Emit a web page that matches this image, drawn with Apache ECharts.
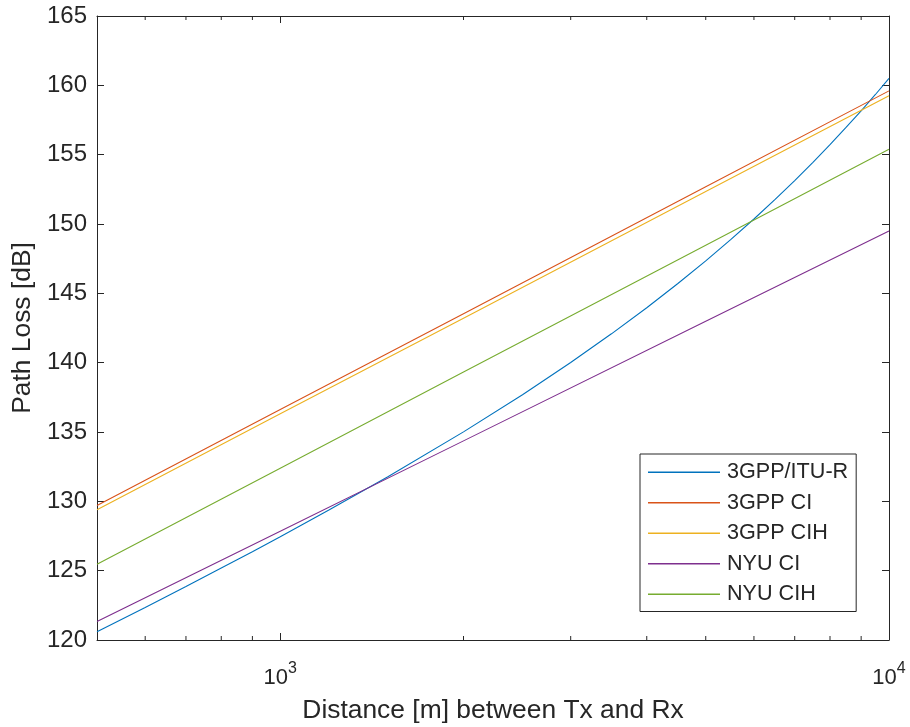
<!DOCTYPE html>
<html>
<head>
<meta charset="utf-8">
<script src="https://cdn.jsdelivr.net/npm/echarts@6/dist/echarts.min.js"></script>
<style>
html,body{margin:0;padding:0;background:#fff;}
#chart{width:910px;height:727px;}
</style>
</head>
<body>
<div id="chart"></div>
<script>
// ---- data ----
const curveDistances = [500, 600, 700, 800, 900, 1000, 1200, 1500, 2000, 2500, 3000, 3500, 4000, 4500, 5000, 5500, 6000, 6500, 7000, 7500, 8000, 8500, 9000, 9500, 10000];
const itur = [120.6, 122.35, 123.86, 125.19, 126.37, 127.45, 129.35, 131.75, 135.01, 137.69, 140.01, 142.08, 143.96, 145.71, 147.34, 148.89, 150.36, 151.77, 153.13, 154.45, 155.72, 156.96, 158.16, 159.34, 160.5];

const lineDistances = [500, 1000, 2000, 5000, 10000];
const gppCI  = [129.70, 136.62, 143.53, 152.68, 159.60];
const gppCIH = [129.40, 136.31, 143.21, 152.35, 159.25];
const nyuCI  = [121.33, 127.85, 134.36, 142.99, 149.50];
const nyuCIH = [125.47, 132.39, 139.32, 148.46, 155.39];

const seriesNames = ['3GPP/ITU-R', '3GPP CI', '3GPP CIH', 'NYU CI', 'NYU CIH'];
const colors = ['#0072BD', '#D95319', '#EDB120', '#7E2F8E', '#77AC30'];

const minorTicks = [600, 700, 800, 900, 2000, 3000, 4000, 5000, 6000, 7000, 8000, 9000];
const xMin = 500, xMax = 10000, yMin = 120, yMax = 165, yStep = 5;

const FONT = '"Liberation Sans", Arial, Helvetica, sans-serif';
const TXT = '#262626';

function pairs(xs, ys){ return xs.map((x,i)=>[x, ys[i]]); }

const chart = echarts.init(document.getElementById('chart'), null, {renderer:'canvas'});

const lineSeries = [
  pairs(curveDistances, itur),
  pairs(lineDistances, gppCI),
  pairs(lineDistances, gppCIH),
  pairs(lineDistances, nyuCI),
  pairs(lineDistances, nyuCIH)
].map((d,i)=>({
  name: seriesNames[i],
  type: 'line',
  data: d,
  symbol: 'none',
  smooth: false,
  lineStyle: {color: colors[i], width: 1.1},
  itemStyle: {color: colors[i]},
  animation: false,
  z: 3
}));

const axisLineStyle = {color: TXT, width: 1};

const option = {
  backgroundColor: '#fff',
  animation: false,
  textStyle: {fontFamily: FONT},
  grid: {left: 97, right: 21, top: 16, bottom: 87, containLabel: false, outerBoundsMode: 'none'},
  legend: {
    data: seriesNames.map(n=>({name:n, icon:'rect'})),
    orient: 'vertical',
    left: 640,
    top: 454,
    padding: [7, 8, 6, 8],
    itemGap: 8,
    itemWidth: 72,
    itemHeight: 1.6,
    borderColor: TXT,
    borderWidth: 1,
    backgroundColor: '#fff',
    textStyle: {fontFamily: FONT, fontSize: 21.6, color: TXT, lineHeight: 22.5, padding: [0,0,0,2]}
  },
  xAxis: [{
    type: 'log', logBase: 10, min: xMin, max: xMax,
    position: 'bottom',
    name: 'Distance [m] between Tx and Rx',
    nameLocation: 'middle', nameGap: 58,
    nameTextStyle: {fontFamily: FONT, fontSize: 26.4, color: TXT},
    axisLine: {show: true, lineStyle: axisLineStyle},
    axisTick: {show: true, inside: true, length: 7, lineStyle: axisLineStyle},
    splitLine: {show: false},
    axisLabel: {
      margin: 19, color: TXT, showMinLabel: false,
      formatter: function(v){
        const e = Math.round(Math.log10(v));
        if (Math.abs(Math.pow(10, e) - v) > 1e-6) return '';
        return '{b|10}{s|' + e + '}';
      },
      rich: {
        b: {fontFamily: FONT, fontSize: 22, color: TXT, lineHeight: 30, verticalAlign: 'bottom'},
        s: {fontFamily: FONT, fontSize: 16, color: TXT, lineHeight: 30, verticalAlign: 'top', padding: [2,0,0,0]}
      }
    }
  }, {
    type: 'log', logBase: 10, min: xMin, max: xMax,
    position: 'top',
    axisLine: {show: true, lineStyle: axisLineStyle},
    axisTick: {show: true, inside: true, length: 7, lineStyle: axisLineStyle},
    axisLabel: {show: false},
    splitLine: {show: false}
  }],
  yAxis: [{
    type: 'value', min: yMin, max: yMax, interval: yStep,
    position: 'left',
    name: 'Path Loss [dB]',
    nameLocation: 'middle', nameGap: 60,
    nameTextStyle: {fontFamily: FONT, fontSize: 26.4, color: TXT},
    axisLine: {show: true, lineStyle: axisLineStyle},
    axisTick: {show: true, inside: true, length: 7, lineStyle: axisLineStyle},
    splitLine: {show: false},
    axisLabel: {fontFamily: FONT, fontSize: 24, color: TXT, margin: 10}
  }, {
    type: 'value', min: yMin, max: yMax, interval: yStep,
    position: 'right',
    axisLine: {show: true, lineStyle: axisLineStyle},
    axisTick: {show: true, inside: true, length: 7, lineStyle: axisLineStyle},
    axisLabel: {show: false},
    splitLine: {show: false}
  }],
  series: lineSeries.concat([{
    name: 'minorTicks',
    type: 'custom',
    silent: true,
    animation: false,
    clip: false,
    xAxisIndex: 0, yAxisIndex: 0,
    data: minorTicks.map(d=>[d]),
    renderItem: function(params, api){
      const d = api.value(0);
      const b = api.coord([d, yMin]);
      const t = api.coord([d, yMax]);
      return {
        type: 'group',
        children: [
          {type:'line', shape:{x1:b[0], y1:b[1], x2:b[0], y2:b[1]-4}, style:{stroke:TXT, lineWidth:1}},
          {type:'line', shape:{x1:t[0], y1:t[1], x2:t[0], y2:t[1]+4}, style:{stroke:TXT, lineWidth:1}}
        ]
      };
    },
    z: 2
  }])
};

chart.setOption(option);
</script>
</body>
</html>
